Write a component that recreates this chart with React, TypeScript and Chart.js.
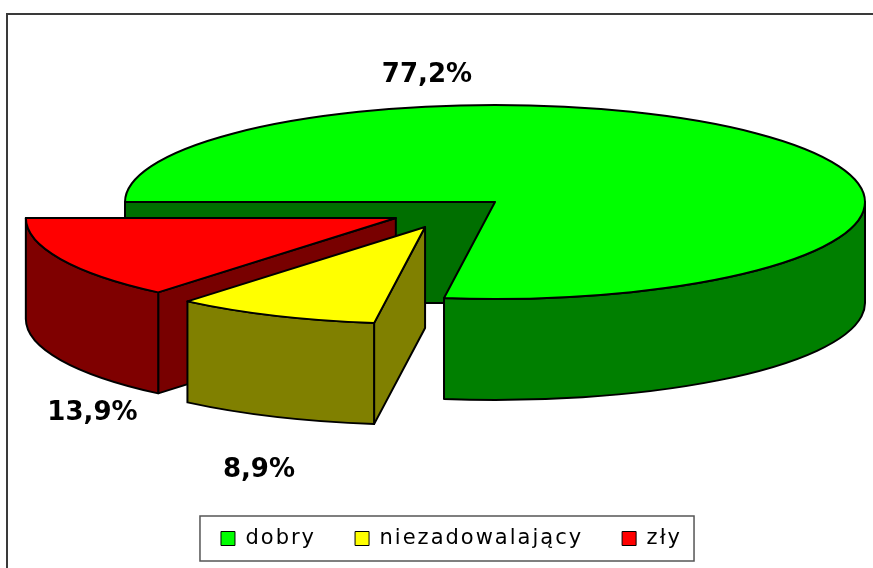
import React, { useEffect, useRef } from 'react';
import { Chart, registerables } from 'chart.js';

Chart.register(...registerables);

// ---- data ----
const CATEGORIES = ['dobry', 'niezadowalający', 'zły'];
const VALUES = [77.2, 8.9, 13.9];

// ---- styles ----
const TOP_COLORS = ['#00ff00', '#ffff00', '#ff0000'];
const SIDE_COLORS = ['#007f00', '#808000', '#7f0000'];
const INNER_COLORS = ['#006f00', '#808000', '#780000'];
// explosion of each slice, in units of the ellipse radii
const EXPLODE = [
  [0, 0],
  [-0.189, 0.258],
  [-0.268, 0.165],
];
// label anchor (centre x, baseline y) relative to each slice centre, in ellipse radii
const LABEL_OFFSETS = [
  [-0.184, -1.237],
  [-0.449, 2.577],
  [-0.82, 2.082],
];
const PIE = { cx: 495, cy: 202, rx: 370, ry: 97, depth: 101 };
const DRAW_ORDER = [0, 2, 1]; // back to front
const LEGEND_SPACING = '2px';

const fmt = (v: number, total: number) => ((v / total) * 100).toFixed(1).replace('.', ',') + '%';

const pie3d = {
  id: 'pie3d',
  beforeLayout(chart: any) {
    (chart.ctx as any).letterSpacing = LEGEND_SPACING;
  },
  beforeDraw(chart: any) {
    const ctx = chart.ctx;
    ctx.save();
    ctx.strokeStyle = '#3a3a3a';
    ctx.lineWidth = 2;
    ctx.beginPath();
    ctx.moveTo(7, chart.height + 5);
    ctx.lineTo(7, 14);
    ctx.lineTo(chart.width + 5, 14);
    ctx.stroke();
    ctx.restore();
  },
  beforeDatasetsDraw(chart: any) {
    const ctx = chart.ctx;
    const meta = chart.getDatasetMeta(0);
    const arcs = meta.data;
    const { cx, cy, rx, ry, depth } = PIE;
    const values = chart.data.datasets[0].data as number[];
    const total = values.reduce((a, b) => a + b, 0);
    ctx.save();
    (ctx as any).letterSpacing = '0px';
    for (const i of DRAW_ORDER) {
      const arc = arcs[i];
      const { x, y, startAngle: a0, endAngle: a1, outerRadius: R } = arc.getProps(
        ['x', 'y', 'startAngle', 'endAngle', 'outerRadius'],
        true
      );
      const ox = cx + EXPLODE[i][0] * rx;
      const oy = cy + EXPLODE[i][1] * ry;
      ctx.save();
      ctx.lineWidth = 2;
      ctx.strokeStyle = '#000';
      ctx.lineJoin = 'round';
      const radial = (a: number) => {
        const px = ox + rx * Math.cos(a);
        const py = oy + ry * Math.sin(a);
        ctx.beginPath();
        ctx.moveTo(ox, oy);
        ctx.lineTo(px, py);
        ctx.lineTo(px, py + depth);
        ctx.lineTo(ox, oy + depth);
        ctx.closePath();
        ctx.fillStyle = INNER_COLORS[i];
        ctx.fill();
        ctx.stroke();
      };
      if (Math.cos(a0) < 0) radial(a0);
      if (Math.cos(a1) > 0) radial(a1);
      for (let k = -2; k <= 2; k++) {
        const b0 = Math.max(a0, 2 * Math.PI * k);
        const b1 = Math.min(a1, 2 * Math.PI * k + Math.PI);
        if (b1 - b0 > 1e-6) {
          ctx.beginPath();
          ctx.ellipse(ox, oy, rx, ry, 0, b0, b1);
          ctx.ellipse(ox, oy + depth, rx, ry, 0, b1, b0, true);
          ctx.closePath();
          ctx.fillStyle = SIDE_COLORS[i];
          ctx.fill();
          ctx.stroke();
        }
      }
      // top face drawn by Chart.js' own arc element, flattened into the ellipse
      ctx.save();
      ctx.translate(ox, oy);
      ctx.scale(rx / R, ry / R);
      ctx.translate(-x, -y);
      arc.draw(ctx);
      ctx.restore();
      // outline of the top face
      ctx.beginPath();
      ctx.moveTo(ox, oy);
      ctx.ellipse(ox, oy, rx, ry, 0, a0, a1);
      ctx.closePath();
      ctx.stroke();
      ctx.restore();
    }
    // data labels
    ctx.font = 'bold 26px "DejaVu Sans"';
    ctx.fillStyle = '#000';
    ctx.textAlign = 'center';
    ctx.textBaseline = 'alphabetic';
    for (let i = 0; i < values.length; i++) {
      const ox = cx + EXPLODE[i][0] * rx;
      const oy = cy + EXPLODE[i][1] * ry;
      ctx.fillText(fmt(values[i], total), ox + LABEL_OFFSETS[i][0] * rx, oy + LABEL_OFFSETS[i][1] * ry);
    }
    ctx.restore();
    return false;
  },
  afterDraw(chart: any) {
    const hb = chart.legend && chart.legend.legendHitBoxes;
    if (!hb || !hb.length) return;
    const ctx = chart.ctx;
    const first = hb[0];
    const last = hb[hb.length - 1];
    const left = first.left - 21;
    const right = last.left + last.width + 12;
    const top = first.top - 12;
    const bottom = first.top + first.height + 12;
    ctx.save();
    ctx.strokeStyle = '#555';
    ctx.lineWidth = 1.5;
    ctx.strokeRect(left, top, right - left, bottom - top);
    ctx.restore();
  },
};

export default function App() {
  const ref = useRef<HTMLCanvasElement | null>(null);
  useEffect(() => {
    if (!ref.current) return;
    const chart = new Chart(ref.current, {
      type: 'pie',
      data: {
        labels: CATEGORIES,
        datasets: [
          {
            data: VALUES,
            backgroundColor: TOP_COLORS,
            borderWidth: 0,
          },
        ],
      },
      options: {
        responsive: false,
        animation: false,
        rotation: 270,
        layout: { padding: { left: 38, right: 8, top: 20, bottom: 9 } },
        plugins: {
          legend: {
            position: 'bottom',
            labels: {
              font: { family: 'DejaVu Sans', size: 21 },
              color: '#000',
              boxWidth: 14,
              boxHeight: 14,
              padding: 39,
              generateLabels: (c: any) =>
                (Chart as any).overrides.pie.plugins.legend.labels
                  .generateLabels(c)
                  .map((l: any) => ({ ...l, strokeStyle: '#000', lineWidth: 1 })),
            },
          },
          tooltip: { enabled: false },
        },
      } as any,
      plugins: [pie3d as any],
    });
    return () => chart.destroy();
  }, []);
  return (
    <div style={{ position: 'fixed', left: 0, top: 0, width: 873, height: 568, background: '#fff' }}>
      <canvas ref={ref} width={873} height={568} style={{ display: 'block' }} />
    </div>
  );
}
